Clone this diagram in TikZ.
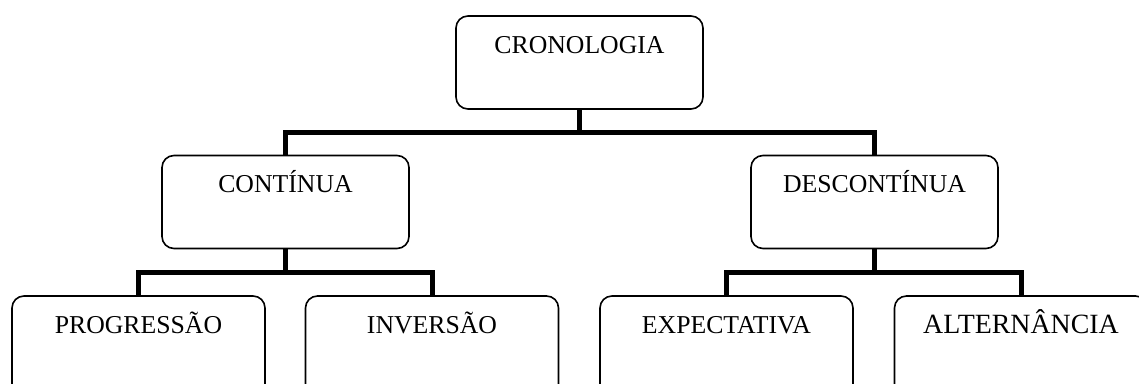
\documentclass[tikz,border=0pt]{standalone}
\usepackage{fontspec}
\setmainfont{Liberation Serif}
\begin{document}
\begin{tikzpicture}[x=0.75pt,y=-0.75pt,
  box/.style={draw=black,line width=1.2pt,rounded corners=9pt,inner sep=0pt,
    text height=28.1pt,font=\fontsize{19.3pt}{23pt}\selectfont},
  upper/.style={box,minimum width=185.25pt,text depth=41.65pt},
  lower/.style={box,minimum width=189.75pt,text depth=61.9pt},
  conn/.style={draw=black,line width=3.75pt,line join=miter,line cap=butt}]
\useasboundingbox (0,0) rectangle (1139,383);
\clip (0,0) rectangle (1139,383);
\node[upper] (cron) at (579.5,62.5) {CRONOLOGIA};
\node[upper] (cont) at (285.5,202) {CONTÍNUA};
\node[upper] (desc) at (874.5,202) {DESCONTÍNUA};
\node[lower] (prog) at (138.5,356) {PROGRESSÃO};
\node[lower] (inv) at (432,356) {INVERSÃO};
\node[lower] (exp) at (726.5,356) {EXPECTATIVA};
\node[lower,font=\fontsize{20.9pt}{24pt}\selectfont] (alt) at (1021,356) {ALTERNÂNCIA};
\draw[conn] (cron.south) -- (cron.south |- 0,132);
\draw[conn] (cont.north) -- (cont.north |- 0,132) -- (desc.north |- 0,132) -- (desc.north);
\draw[conn] (cont.south) -- (cont.south |- 0,272);
\draw[conn] (prog.north) -- (prog.north |- 0,272) -- (inv.north |- 0,272) -- (inv.north);
\draw[conn] (desc.south) -- (desc.south |- 0,272);
\draw[conn] (exp.north) -- (exp.north |- 0,272) -- (alt.north |- 0,272) -- (alt.north);
\end{tikzpicture}
\end{document}
